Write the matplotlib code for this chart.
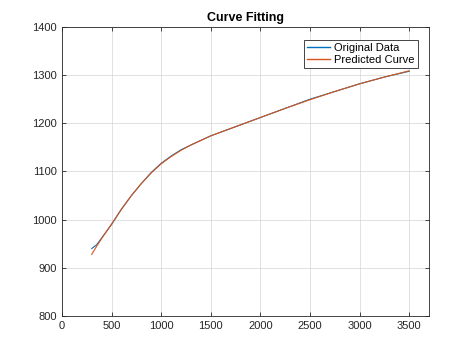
import numpy as np
import matplotlib
matplotlib.use("Agg")
import matplotlib.pyplot as plt

# values
x_orig = [300, 350, 400, 450, 500, 600, 700, 800, 900, 1000, 1100, 1200, 1300,
          1500, 1750, 2000, 2250, 2500, 2750, 3000, 3250, 3500]
y_orig = [940, 948, 962, 976, 990, 1022, 1050, 1075, 1098, 1117, 1132, 1145, 1155,
          1174, 1193, 1212, 1231, 1250, 1266, 1282, 1296, 1308]

x_pred = [300, 350, 400, 450, 500, 600, 700, 800, 900, 1000, 1100, 1200, 1300,
          1500, 1750, 2000, 2250, 2500, 2750, 3000, 3250, 3500]
y_pred = [928, 945, 961, 976, 991, 1022, 1050, 1075, 1097, 1116, 1131, 1144, 1155,
          1174, 1193, 1212, 1231, 1249, 1266, 1282, 1296, 1309]

plt.rcParams['font.family'] = ['Liberation Sans', 'DejaVu Sans']
axcol = '#262626'

fig = plt.figure(figsize=(4.74, 3.55), dpi=100)
ax = fig.add_axes([0.1308, 0.1099, 0.7742, 0.8141])
ax.plot(x_orig, y_orig, color='#0072BD', lw=0.8, label='Original Data')
ax.plot(x_pred, y_pred, color='#D95319', lw=0.8, label='Predicted Curve')

ax.set_xlim(0, 3700)
ax.set_ylim(800, 1400)
ax.set_xticks(np.arange(0, 3501, 500))
ax.set_yticks(np.arange(800, 1401, 100))
ax.grid(True, color='#dcdcdc', lw=0.6)
ax.set_axisbelow(True)
ax.tick_params(direction='in', length=3, width=0.6, colors=axcol, labelsize=8,
               top=True, right=True, labelcolor=axcol)
for s in ax.spines.values():
    s.set_color(axcol)
    s.set_linewidth(0.6)
ax.set_title('Curve Fitting', fontsize=9, fontweight='bold', color='black', pad=4)

leg = ax.legend(loc='upper right', fontsize=8, fancybox=False, framealpha=1,
                edgecolor=axcol, borderpad=0.3, handlelength=2.0, handletextpad=0.4,
                labelspacing=0.15, bbox_to_anchor=(0.985, 0.975))
leg.get_frame().set_linewidth(0.6)
for ln in leg.get_lines():
    ln.set_linewidth(1.0)

fig.savefig('out.png', dpi=100)
